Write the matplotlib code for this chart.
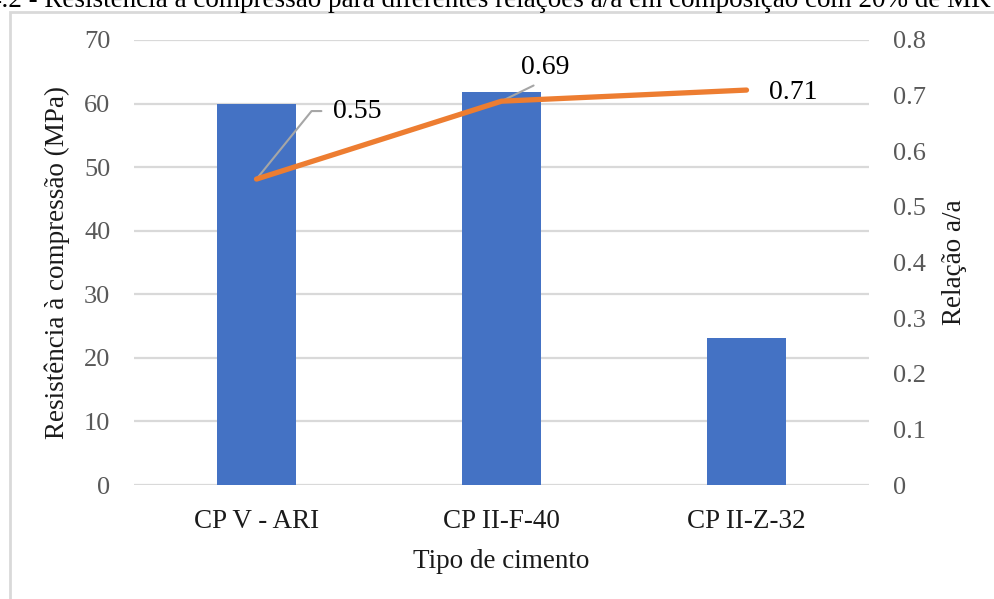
import matplotlib
matplotlib.use("Agg")
import matplotlib.pyplot as plt
from matplotlib.patches import Rectangle

# Data
cement_types = ["CP V - ARI", "CP II-F-40", "CP II-Z-32"]
strength_mpa = [60.0, 61.8, 23.2]
wc_ratio = [0.55, 0.69, 0.71]
ratio_labels = ["0.55", "0.69", "0.71"]
left_ticks = [0, 10, 20, 30, 40, 50, 60, 70]
right_ticks = [0, 0.1, 0.2, 0.3, 0.4, 0.5, 0.6, 0.7, 0.8]
right_tick_labels = ["0", "0.1", "0.2", "0.3", "0.4", "0.5", "0.6", "0.7", "0.8"]

plt.rcParams["font.family"] = ["Liberation Serif", "DejaVu Serif"]

BAR = "#4472C4"
LINE = "#ED7D31"
GRID = "#D9D9D9"
TICK = "#595959"

W, H = 995, 599
fig = plt.figure(figsize=(W / 100, H / 100), dpi=100)

# outer frame of the chart area (clipped by the canvas on right and bottom)
fig.patches.append(Rectangle((10 / W, -0.2), 1.2, 1.2 - 12 / H,
                             transform=fig.transFigure, fill=False,
                             edgecolor=GRID, linewidth=2))

# caption line above the chart, partly cut by the top edge
fig.text(-12 / W, 1 - 7 / H,
         "4.2 - Resistência à compressão para diferentes relações a/a em composição com 20% de MK",
         ha="left", va="baseline", fontsize=19.5, color="black")

left, right, bottom, top = 134 / W, 869 / W, 1 - 485 / H, 1 - 40 / H
ax = fig.add_axes([left, bottom, right - left, top - bottom])
ax2 = ax.twinx()

x = list(range(len(cement_types)))
ax.bar(x, strength_mpa, width=0.32, color=BAR, zorder=3)
ax.set_xlim(-0.5, len(cement_types) - 0.5)
ax.set_ylim(0, 70)
ax.set_yticks(left_ticks)
ax.grid(axis="y", color=GRID, linewidth=1.6, zorder=0)
ax.set_axisbelow(True)
ax.set_xticks(x)
ax.set_xticklabels(cement_types, fontsize=19.5, color="#1a1a1a")
ax.tick_params(axis="x", length=0, pad=17)
ax.tick_params(axis="y", length=0, pad=17, labelsize=19, labelcolor=TICK)
ax.set_xlabel("Tipo de cimento", fontsize=19.5, labelpad=11, color="#1a1a1a")
ax.set_ylabel("Resistência à compressão (MPa)", fontsize=19.5, labelpad=10, color="#1a1a1a")

ax2.plot(x, wc_ratio, color=LINE, linewidth=3.8, solid_capstyle="round",
         solid_joinstyle="round", zorder=4)
ax2.set_ylim(0, 0.8)
ax2.set_yticks(right_ticks)
ax2.set_yticklabels(right_tick_labels)
ax2.tick_params(axis="y", length=0, pad=17, labelsize=19, labelcolor=TICK)
ax2.set_ylabel("Relação a/a", fontsize=19.5, labelpad=12, color="#1a1a1a")

for a in (ax, ax2):
    for s in a.spines.values():
        s.set_visible(False)

# value labels on the line, with leader lines where they sit away from the point
lead = dict(arrowstyle="-", color="#A6A6A6", linewidth=1.5, shrinkB=0)
ax2.annotate(ratio_labels[0], (x[0], wc_ratio[0]), xytext=(76, 68),
             textcoords="offset pixels", ha="left", va="center", fontsize=20,
             arrowprops=dict(lead, relpos=(0, 0.5), shrinkA=6,
                             connectionstyle="angle,angleA=0,angleB=51,rad=0"))
ax2.annotate(ratio_labels[1], (x[1], wc_ratio[1]), xytext=(44, 34),
             textcoords="offset pixels", ha="center", va="center", fontsize=20,
             arrowprops=dict(lead, relpos=(0.5, 0), shrinkA=5))
ax2.annotate(ratio_labels[2], (x[2], wc_ratio[2]), xytext=(23, -2),
             textcoords="offset pixels", ha="left", va="center", fontsize=20)

fig.savefig("out.png", dpi=100)
